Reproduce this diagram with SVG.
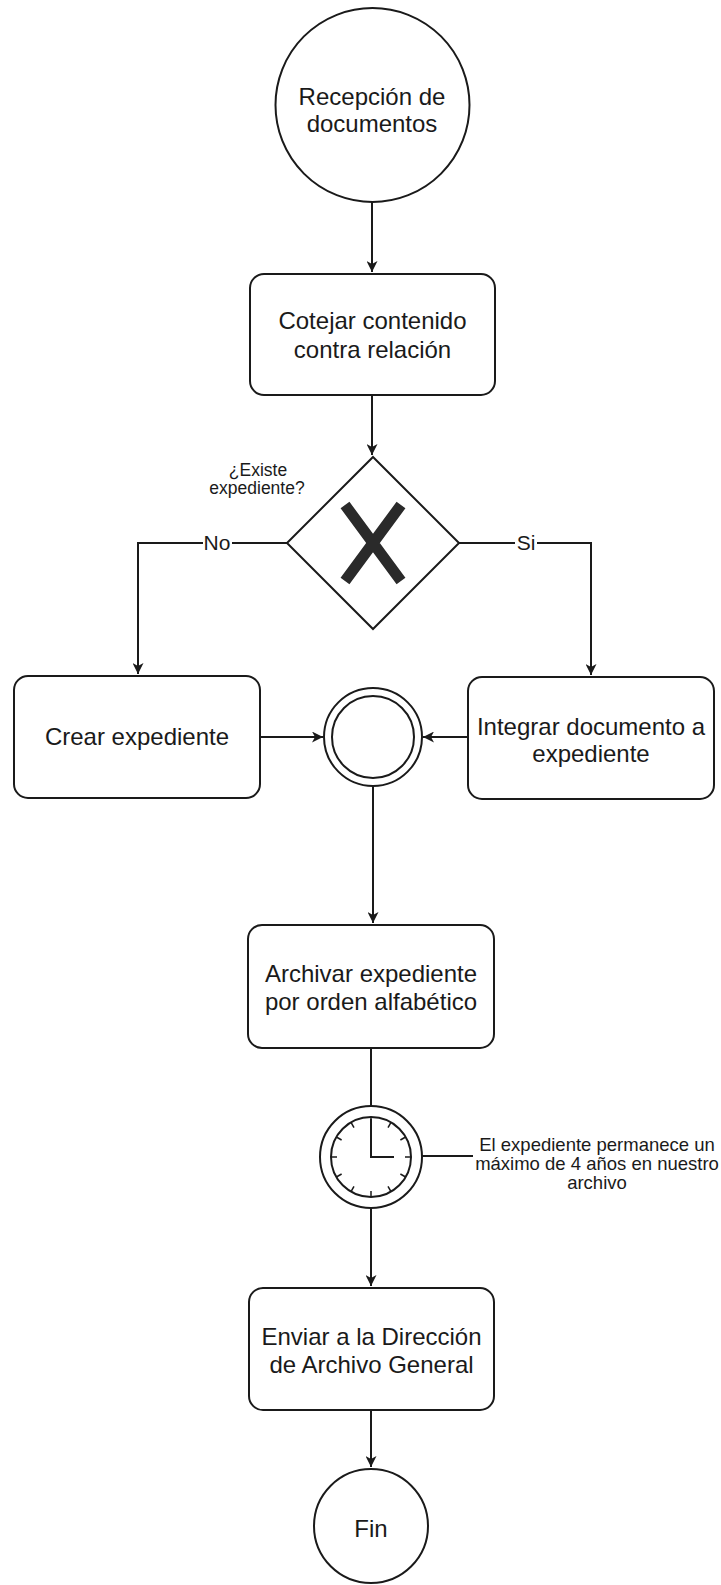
<svg xmlns="http://www.w3.org/2000/svg" width="721" height="1585" viewBox="0 0 721 1585">
<style>
.shape{fill:#fff;stroke:#1a1a1a;stroke-width:2}
.conn{fill:none;stroke:#1a1a1a;stroke-width:2}
.t{font-family:"Liberation Sans",Arial,sans-serif;fill:#1a1a1a;text-anchor:middle}
.big{font-size:24px}
.mid{font-size:21px}
.small{font-size:17.5px}
.note{font-size:18.5px}
.tick{stroke:#1a1a1a;stroke-width:1.5}
</style>
<defs>
<marker id="arr" markerWidth="12" markerHeight="11" refX="11" refY="5.5" orient="auto" markerUnits="userSpaceOnUse">
<path d="M0,0 L11,5.5 L0,11 L3,5.5 z" fill="#1a1a1a"/>
</marker>
</defs>
<rect width="721" height="1585" fill="#fff"/>

<g id="connectors">
<path class="conn" d="M372,202 V272" marker-end="url(#arr)"/>
<path class="conn" d="M372,395 V455" marker-end="url(#arr)"/>
<path class="conn" d="M287,543 H138 V674" marker-end="url(#arr)"/>
<path class="conn" d="M459,543 H591 V675" marker-end="url(#arr)"/>
<path class="conn" d="M260,737 H323" marker-end="url(#arr)"/>
<path class="conn" d="M468,737 H423" marker-end="url(#arr)"/>
<path class="conn" d="M373,786 V923" marker-end="url(#arr)"/>
<path class="conn" d="M371,1048 V1105"/>
<path class="conn" d="M371,1208 V1286" marker-end="url(#arr)"/>
<path class="conn" d="M422,1156 H473"/>
<path class="conn" d="M371,1410 V1467" marker-end="url(#arr)"/>
<g id="label-no">
<rect x="203" y="530" width="29" height="26" fill="#fff"/>
<text class="t mid" x="217" y="550">No</text>
</g>
<g id="label-si">
<rect x="515" y="530" width="22" height="26" fill="#fff"/>
<text class="t mid" x="526" y="550">Si</text>
</g>
</g>

<g id="start">
<circle class="shape" cx="372.5" cy="105" r="97"/>
<text class="t big" x="372" y="105">Recepción de</text>
<text class="t big" x="372" y="132">documentos</text>
</g>

<g id="cotejar">
<rect class="shape" x="250" y="274" width="245" height="121" rx="14"/>
<text class="t big" x="372.5" y="329">Cotejar contenido</text>
<text class="t big" x="372.5" y="358">contra relación</text>
</g>

<g id="gateway">
<polygon class="shape" points="373,457 459,543 373,629 287,543"/>
<path d="M345,505 L401,581 M401,505 L345,581" stroke="#2a2a2a" stroke-width="11" fill="none"/>
<text class="t small" x="258" y="476">¿Existe</text>
<text class="t small" x="257" y="494">expediente?</text>
</g>

<g id="crear">
<rect class="shape" x="14" y="676" width="246" height="122" rx="14"/>
<text class="t big" x="137" y="745">Crear expediente</text>
</g>

<g id="integrar">
<rect class="shape" x="468" y="677" width="246" height="122" rx="14"/>
<text class="t big" x="591" y="735">Integrar documento a</text>
<text class="t big" x="591" y="762">expediente</text>
</g>

<g id="merge">
<circle class="shape" cx="373" cy="737" r="49"/>
<circle class="shape" cx="373" cy="737" r="41"/>
</g>

<g id="archivar">
<rect class="shape" x="248" y="925" width="246" height="123" rx="14"/>
<text class="t big" x="371" y="982">Archivar expediente</text>
<text class="t big" x="371" y="1010">por orden alfabético</text>
</g>

<g id="timer">
<circle class="shape" cx="371" cy="1157" r="51"/>
<circle class="shape" cx="371" cy="1157" r="40"/>
<g class="tick">
<line x1="371" y1="1117" x2="371" y2="1123"/>
<line x1="391" y1="1122.4" x2="388" y2="1127.6"/>
<line x1="405.6" y1="1137" x2="400.4" y2="1140"/>
<line x1="411" y1="1157" x2="405" y2="1157"/>
<line x1="405.6" y1="1177" x2="400.4" y2="1174"/>
<line x1="391" y1="1191.6" x2="388" y2="1186.4"/>
<line x1="371" y1="1197" x2="371" y2="1191"/>
<line x1="351" y1="1191.6" x2="354" y2="1186.4"/>
<line x1="336.4" y1="1177" x2="341.6" y2="1174"/>
<line x1="331" y1="1157" x2="337" y2="1157"/>
<line x1="336.4" y1="1137" x2="341.6" y2="1140"/>
<line x1="351" y1="1122.4" x2="354" y2="1127.6"/>
</g>
<path d="M371,1119 V1157 H394" fill="none" stroke="#1a1a1a" stroke-width="2"/>
</g>

<g id="timer-note">
<text class="t note" x="597" y="1151">El expediente permanece un</text>
<text class="t note" x="597" y="1170">máximo de 4 años en nuestro</text>
<text class="t note" x="597" y="1189">archivo</text>
</g>

<g id="enviar">
<rect class="shape" x="249" y="1288" width="245" height="122" rx="14"/>
<text class="t big" x="371.5" y="1345">Enviar a la Dirección</text>
<text class="t big" x="371.5" y="1373">de Archivo General</text>
</g>

<g id="fin">
<circle class="shape" cx="371" cy="1526" r="57"/>
<text class="t big" x="371" y="1537">Fin</text>
</g>
</svg>
